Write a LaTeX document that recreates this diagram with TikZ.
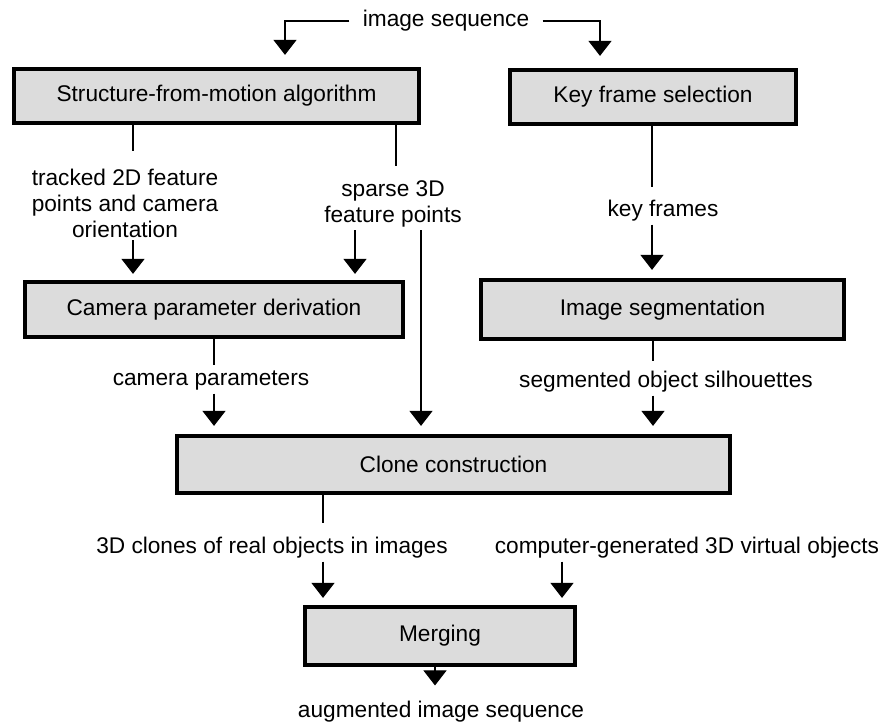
\documentclass[tikz,border=0pt]{standalone}
\usepackage{fontspec}
\setmainfont{Liberation Sans}
\usetikzlibrary{arrows.meta}
\definecolor{boxgray}{RGB}{220,220,220}

\begin{document}
\begin{tikzpicture}[x=0.02cm, y=-0.02cm,
  every node/.style = {font=\fontsize{12.9}{14.8}\selectfont, align=center, inner sep=1.5pt},
  box/.style = {draw, line width=2.4pt, fill=boxgray, minimum height=1.12cm},
  flow/.style = {-{Triangle[width=0.46cm, length=0.3cm]}, line width=0.6pt}]

\useasboundingbox (0,0) rectangle (882,722);

\node[box, minimum width=8.1cm, minimum height=1.08cm] (sfm) at (216.5,96) {Structure-from-motion algorithm};
\node[box, minimum width=5.72cm, minimum height=1.08cm] (keysel) at (653,97) {Key frame selection};
\node[box, minimum width=7.56cm, minimum height=1.1cm] (campar) at (214,309.5) {Camera parameter derivation};
\node[box, minimum width=7.26cm, minimum height=1.18cm] (imgseg) at (662.5,309.5) {Image segmentation};
\node[box, minimum width=11.06cm, minimum height=1.14cm] (clone) at (453.5,464.5) {Clone construction};
\node[box, minimum width=5.4cm, minimum height=1.16cm] (merging) at (440,636) {Merging};

\node[inner xsep=0.26cm] (seq) at (446,21) {image sequence};
\node (trk) at (125,203) {tracked 2D feature\\points and camera\\orientation};
\node (sparse) at (393,204) {sparse 3D\\feature points};
\node (keyfr) at (663,211) {key frames};
\node (campa) at (211,381) {camera parameters};
\node (silh) at (666,382) {segmented object silhouettes};
\node (clones) at (272,548) {3D clones of real objects in images};
\node (virt) at (687,548) {computer-generated 3D virtual objects};
\node (aug) at (441,712) {augmented image sequence};

\coordinate (cinl) at (285,0);
\coordinate (cinr) at (600,0);
\coordinate (c2d) at (133,0);
\coordinate (c3d) at (396,0);
\coordinate (c3dl) at (355,0);
\coordinate (c3dr) at (421,0);
\coordinate (ckey) at (652,0);
\coordinate (ccam) at (214,0);
\coordinate (cseg) at (653,0);
\coordinate (cclo) at (323,0);
\coordinate (cvirt) at (562,0);
\coordinate (cout) at (435,0);

\draw[flow, shorten >=0.24cm] (seq.west) -| (sfm.north -| cinl);
\draw[flow, shorten >=0.24cm] (seq.east) -| (keysel.north -| cinr);

\draw[line width=0.6pt, shorten >=0.29cm] (sfm.south -| c2d) -- (trk.north -| c2d);
\draw[flow, shorten >=0.12cm] (trk.south -| c2d) -- (campar.north -| c2d);
\draw[line width=0.6pt, shorten >=0.24cm] (sfm.south -| c3d) -- (sparse.north -| c3d);
\draw[flow, shorten >=0.12cm] (sparse.south -| c3dl) -- (campar.north -| c3dl);
\draw[flow, shorten >=0.16cm] (sparse.south -| c3dr) -- (clone.north -| c3dr);

\draw[line width=0.6pt, shorten >=0.2cm] (keysel.south -| ckey) -- (keyfr.north -| ckey);
\draw[flow, shorten >=0.16cm] (keyfr.south -| ckey) -- (imgseg.north -| ckey);

\draw[line width=0.6pt, shorten >=0.07cm] (campar.south -| ccam) -- (campa.north -| ccam);
\draw[flow, shorten >=0.16cm] (campa.south -| ccam) -- (clone.north -| ccam);
\draw[line width=0.6pt, shorten >=0.14cm] (imgseg.south -| cseg) -- (silh.north -| cseg);
\draw[flow, shorten >=0.16cm] (silh.south -| cseg) -- (clone.north -| cseg);

\draw[line width=0.6pt, shorten >=0.22cm] (clone.south -| cclo) -- (clones.north -| cclo);
\draw[flow, shorten >=0.14cm] (clones.south -| cclo) -- (merging.north -| cclo);
\draw[flow, shorten >=0.14cm] (virt.south -| cvirt) -- (merging.north -| cvirt);

\draw[flow, shorten >=0.26cm] (merging.south -| cout) -- (aug.north -| cout);
\end{tikzpicture}
\end{document}
